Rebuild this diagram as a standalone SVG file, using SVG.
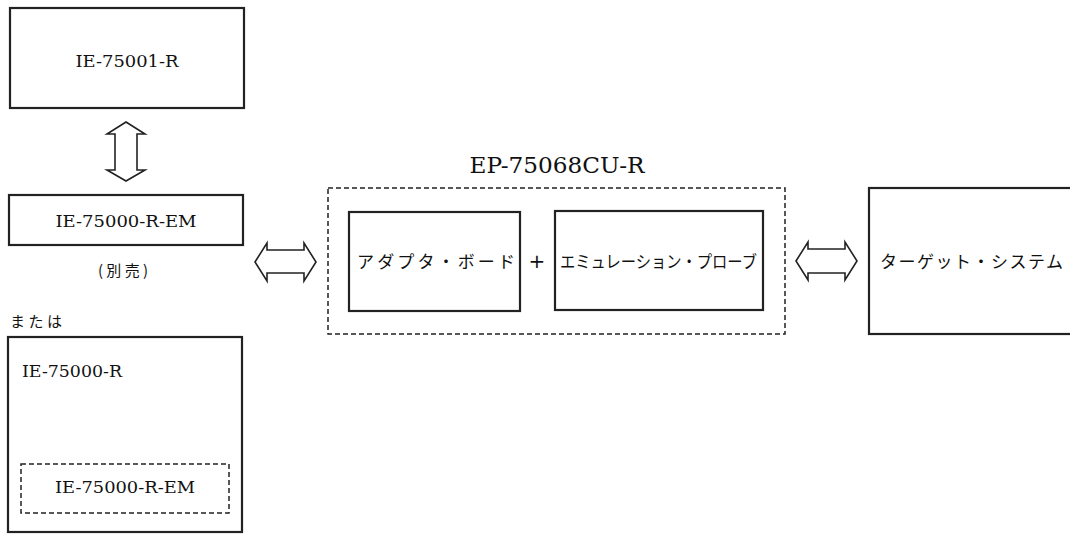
<svg xmlns="http://www.w3.org/2000/svg" width="1070" height="534" viewBox="0 0 1070 534">
<style>
.box{fill:#fff;stroke:#222;stroke-width:2.2}
.dash{fill:none;stroke:#222;stroke-width:1.5;stroke-dasharray:5 3}
.arr{fill:#fff;stroke:#222;stroke-width:1.6;stroke-linejoin:miter}
.lat{font-family:"DejaVu Serif","Liberation Serif",serif;font-size:17px;fill:#111}
.big{font-size:22px}
.jp{font-family:"Noto Sans CJK JP","Noto Sans CJK SC",sans-serif;font-size:17px;fill:#111}
.sm{font-size:15px}
.plus{font-family:"DejaVu Sans",sans-serif;font-size:20px;fill:#111}
</style>
<rect width="1070" height="534" fill="#fff"/>
<g id="ie75001r">
<rect class="box" x="10" y="8" width="234" height="100"/>
<text class="lat" x="127" y="67" text-anchor="middle" textLength="103" lengthAdjust="spacingAndGlyphs">IE-75001-R</text>
</g>
<g id="ie75000rem">
<rect class="box" x="9" y="195" width="234" height="50"/>
<text class="lat" x="126" y="227" text-anchor="middle" textLength="141" lengthAdjust="spacingAndGlyphs">IE-75000-R-EM</text>
<text class="jp sm" x="123" y="276" text-anchor="middle" textLength="50">(別売)</text>
</g>
<g id="mataha">
<text class="jp sm" x="10" y="327" textLength="52">または</text>
</g>
<g id="ie75000r">
<rect class="box" x="8" y="337" width="234" height="195"/>
<text class="lat" x="22" y="377" textLength="100" lengthAdjust="spacingAndGlyphs">IE-75000-R</text>
<rect class="dash" x="21" y="464" width="208" height="49"/>
<text class="lat" x="125" y="493" text-anchor="middle" textLength="140" lengthAdjust="spacingAndGlyphs">IE-75000-R-EM</text>
</g>
<g id="ep75068cur">
<text class="lat big" x="557" y="173" text-anchor="middle" textLength="175" lengthAdjust="spacingAndGlyphs">EP-75068CU-R</text>
<rect class="dash" x="328" y="188" width="457" height="146"/>
</g>
<g id="adapter">
<rect class="box" x="349" y="212" width="171" height="99"/>
<text class="jp" x="357" y="268" textLength="158">アダプタ・ボード</text>
</g>
<g id="plus">
<text class="plus" x="537" y="268" text-anchor="middle">+</text>
</g>
<g id="probe">
<rect class="box" x="555" y="211" width="208" height="99"/>
<text class="jp" x="560" y="268" textLength="197" lengthAdjust="spacingAndGlyphs">エミュレーション・プローブ</text>
</g>
<g id="target">
<rect class="box" x="869" y="188" width="205" height="146"/>
<text class="jp" x="880" y="268" textLength="183">ターゲット・システム</text>
</g>
<g id="connectors">
<polygon class="arr" points="126,122 145,134 137,134 137,170 145,170 126,181 107,170 115,170 115,134 107,134"/>
<polygon class="arr" points="255,262 267,243 267,250 304,250 304,243 316,262 304,281 304,273 267,273 267,281"/>
<polygon class="arr" points="796,261 808,242 808,249 845,249 845,242 857,261 845,280 845,273 808,273 808,280"/>
</g>
</svg>
